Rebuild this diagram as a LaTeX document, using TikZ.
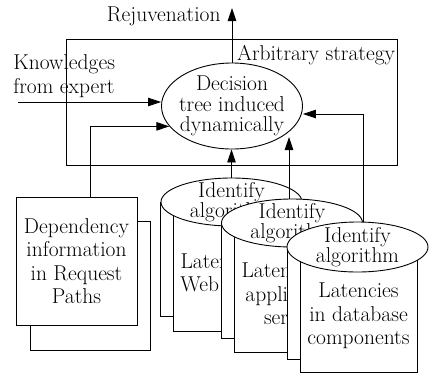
\documentclass[tikz,border=0pt]{standalone}
\usetikzlibrary{arrows.meta,shapes.geometric,calc}
\begin{document}
\begin{tikzpicture}[x=1pt,y=-1pt,
  line width=0.9pt,
  every node/.style={font=\fontsize{21.5}{23.5}\selectfont, inner sep=0pt},
  link/.style={-{Triangle[length=13pt,width=8.5pt]}},
  paper/.style={draw, fill=white, rectangle, align=center},
  disk/.style={draw, fill=white, ellipse, minimum width=141pt, align=center,
    inner xsep=-4pt, inner ysep=-9pt, font=\fontsize{21.5}{19.5}\selectfont},
]
\useasboundingbox (0,0) rectangle (435,373);

% strategy frame and the decision tree
\node[draw, minimum width=331pt, minimum height=126pt] (frame) at (231.5,102) {};
\node[anchor=base east] (arb) at (395.5,60.5) {Arbitrary strategy};
\node[draw, ellipse, minimum width=141pt, minimum height=86pt, align=center,
  inner xsep=-6pt, inner ysep=-8pt, font=\fontsize{21.5}{20.5}\selectfont]
  (dec) at (232,106) {Decision\\tree induced\\dynamically};

% rejuvenation output
\coordinate (rtop) at (231,8);
\draw[link] (dec.north) -- (dec.north |- rtop);
\node[anchor=base east] (rej) at (221,21.5) {Rejuvenation};

% expert knowledge input
\node[anchor=north west, align=left] (know) at (13,54.5) {Knowledges\\from expert};
\coordinate (kstart) at (18,102);
\draw[link] (kstart) -- (kstart -| dec.west);

% dependency information (two sheets)
\node[paper, minimum width=120pt, minimum height=129pt] (depback) at (90,285.5) {};
\node[paper, minimum width=121pt, minimum height=128pt] (dep) at (76.5,261)
  {Dependency\\information\\in Request\\Paths};
\draw[link] ($(dep.north)+(13.5,0)$) |- (dec.198);

% latency sources: web servers
\node[paper, minimum width=119pt, minimum height=114pt] (b1) at (220,259) {};
\node[paper, minimum width=117pt, minimum height=116pt] (f1) at (232,273)
  {Latencies in\\Web servers};
\node[disk, minimum height=48pt] (e1) at (231.5,202) {Identify\\algorithm};

% latency sources: application servers
\node[paper, minimum width=119pt, minimum height=115pt] (b2) at (281,280.5) {};
\node[paper, minimum width=117pt, minimum height=116pt] (f2) at (293,294)
  {Latencies in\\application\\servers};
\node[disk, minimum height=48pt] (e2) at (292,223) {Identify\\algorithm};

% latency sources: database components
\node[paper, minimum width=119pt, minimum height=112pt] (b3) at (346.5,303) {};
\node[paper, minimum width=117pt, minimum height=112pt] (f3) at (358.5,316)
  {Latencies\\in database\\components};
\node[disk, minimum height=50pt] (e3) at (357.5,247) {Identify\\algorithm};

% feeds into the decision tree
\draw[link] (e1.north) -- (e1.north |- dec.south);
\coordinate (tip2) at (289,137);
\draw[link] (tip2 |- e2.north) -- (tip2);
\coordinate (r3) at (363,114);
\draw[link] (r3 |- e3.north) -- (r3) -- (r3 -| dec.east);
\end{tikzpicture}
\end{document}
